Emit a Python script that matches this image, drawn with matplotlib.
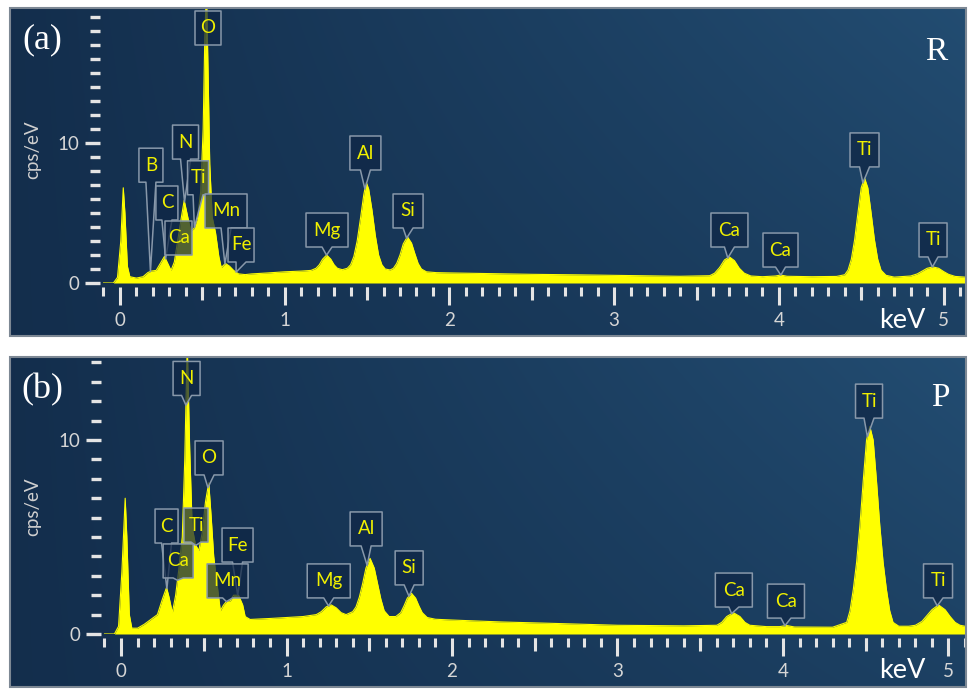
import numpy as np
import matplotlib
matplotlib.use("Agg")
import matplotlib.pyplot as plt
from matplotlib.patches import Polygon, Rectangle
from matplotlib.ticker import MultipleLocator, FixedLocator, NullFormatter
from matplotlib.transforms import IdentityTransform

plt.rcParams['font.family'] = ['Lato', 'DejaVu Sans']

# ---- EDS spectrum, sample R: (keV, cps/eV) ----
spectrum_a = [
    (-0.11, 0.0), (-0.04, 0.0), (-0.015, 0.4), (0.005, 3.0), (0.02, 6.8), (0.03, 5.0),
    (0.045, 1.2), (0.06, 0.45), (0.10, 0.35), (0.14, 0.45), (0.17, 0.75), (0.19, 0.85),
    (0.22, 0.9), (0.25, 1.5), (0.27, 1.9), (0.29, 1.4), (0.31, 0.9), (0.33, 1.5),
    (0.35, 3.0), (0.37, 4.5), (0.39, 5.9), (0.41, 4.8), (0.43, 3.7), (0.45, 3.9),
    (0.47, 4.6), (0.49, 6.5), (0.505, 11.0), (0.515, 17.5), (0.525, 21.0), (0.535, 15.0),
    (0.545, 8.5), (0.56, 4.7), (0.58, 3.6), (0.60, 1.9), (0.615, 1.1), (0.64, 1.4),
    (0.665, 1.2), (0.69, 0.9), (0.72, 0.65), (0.76, 0.6), (0.8, 0.65), (0.9, 0.72),
    (1.0, 0.8), (1.1, 0.85), (1.16, 0.9), (1.19, 1.05), (1.21, 1.3), (1.23, 1.7),
    (1.255, 2.0), (1.28, 1.7), (1.30, 1.3), (1.32, 1.05), (1.35, 0.95), (1.38, 1.05),
    (1.40, 1.3), (1.42, 1.9), (1.44, 3.0), (1.46, 4.6), (1.48, 6.3), (1.495, 7.2),
    (1.51, 6.7), (1.53, 5.2), (1.55, 3.4), (1.57, 2.0), (1.59, 1.3), (1.61, 1.0),
    (1.64, 0.93), (1.66, 1.05), (1.68, 1.4), (1.70, 2.0), (1.72, 2.8), (1.745, 3.3),
    (1.77, 2.85), (1.79, 2.1), (1.81, 1.4), (1.83, 1.0), (1.86, 0.8), (1.92, 0.74),
    (2.0, 0.72), (2.2, 0.68), (2.5, 0.62), (2.8, 0.58), (3.1, 0.53), (3.4, 0.48),
    (3.58, 0.52), (3.61, 0.7), (3.64, 1.1), (3.67, 1.65), (3.70, 1.86), (3.73, 1.6),
    (3.76, 1.05), (3.79, 0.7), (3.83, 0.5), (3.9, 0.45), (3.98, 0.5), (4.01, 0.57),
    (4.05, 0.48), (4.2, 0.45), (4.35, 0.47), (4.40, 0.59), (4.42, 0.92), (4.44, 1.7),
    (4.46, 3.1), (4.48, 5.0), (4.50, 6.8), (4.52, 7.5), (4.54, 6.8), (4.56, 5.0),
    (4.58, 3.1), (4.60, 1.7), (4.62, 0.92), (4.65, 0.55), (4.7, 0.42), (4.80, 0.5),
    (4.84, 0.65), (4.87, 0.85), (4.90, 1.05), (4.935, 1.15), (4.97, 1.05), (5.00, 0.82),
    (5.03, 0.62), (5.07, 0.47), (5.13, 0.42),
]

# ---- EDS spectrum, sample P ----
spectrum_b = [
    (-0.11, 0.0), (-0.04, 0.0), (-0.015, 0.4), (0.005, 3.2), (0.025, 7.0), (0.035, 5.0),
    (0.05, 1.0), (0.065, 0.3), (0.10, 0.3), (0.14, 0.5), (0.18, 0.75), (0.22, 1.0),
    (0.25, 1.8), (0.275, 2.4), (0.29, 1.9), (0.31, 1.1), (0.33, 2.0), (0.35, 3.4),
    (0.37, 5.0), (0.385, 9.0), (0.40, 15.0), (0.415, 9.5), (0.43, 5.5), (0.45, 4.6),
    (0.47, 4.3), (0.49, 5.2), (0.51, 6.8), (0.53, 7.8), (0.545, 6.0), (0.56, 4.0),
    (0.58, 2.6), (0.60, 1.2), (0.62, 1.5), (0.64, 1.7), (0.66, 1.7), (0.68, 2.0),
    (0.71, 2.0), (0.735, 1.5), (0.75, 0.9), (0.78, 0.75), (0.9, 0.8), (1.0, 0.85),
    (1.1, 0.9), (1.18, 1.0), (1.21, 1.15), (1.24, 1.4), (1.27, 1.5), (1.30, 1.35),
    (1.33, 1.1), (1.36, 1.0), (1.40, 1.15), (1.42, 1.4), (1.44, 1.9), (1.46, 2.6),
    (1.48, 3.4), (1.505, 3.9), (1.53, 3.4), (1.55, 2.6), (1.57, 1.8), (1.59, 1.2),
    (1.62, 0.9), (1.66, 0.9), (1.69, 1.1), (1.71, 1.45), (1.73, 1.85), (1.755, 2.1),
    (1.78, 1.85), (1.80, 1.45), (1.82, 1.1), (1.85, 0.85), (1.9, 0.76), (2.0, 0.72),
    (2.3, 0.62), (2.6, 0.55), (3.0, 0.45), (3.4, 0.42), (3.60, 0.45), (3.63, 0.6),
    (3.66, 0.9), (3.70, 1.1), (3.74, 0.9), (3.77, 0.6), (3.80, 0.45), (3.9, 0.38),
    (3.98, 0.38), (4.02, 0.44), (4.07, 0.36), (4.3, 0.35), (4.385, 0.6), (4.405, 1.2),
    (4.425, 2.3), (4.445, 3.7), (4.465, 5.6), (4.485, 7.9), (4.505, 10.0), (4.525, 10.7),
    (4.545, 10.0), (4.565, 7.9), (4.585, 5.6), (4.605, 3.7), (4.625, 2.3), (4.645, 1.2),
    (4.665, 0.6), (4.7, 0.4), (4.76, 0.4), (4.80, 0.45), (4.84, 0.65), (4.87, 0.95),
    (4.90, 1.25), (4.94, 1.5), (4.98, 1.25), (5.01, 0.9), (5.04, 0.6), (5.07, 0.45),
    (5.10, 0.4),
]

# identified lines: element, line energy (keV)
elements_a = ['B', 'C', 'Ca', 'N', 'Ti', 'O', 'Mn', 'Fe', 'Mg', 'Al', 'Si', 'Ca', 'Ca', 'Ti', 'Ti']
lines_a = [0.185, 0.277, 0.341, 0.392, 0.452, 0.525, 0.637, 0.705, 1.254, 1.487, 1.740,
           3.690, 4.012, 4.510, 4.932]
elements_b = ['N', 'O', 'C', 'Ti', 'Ca', 'Fe', 'Mn', 'Mg', 'Al', 'Si', 'Ca', 'Ca', 'Ti', 'Ti']
lines_b = [0.392, 0.525, 0.277, 0.452, 0.341, 0.705, 0.637, 1.254, 1.487, 1.740,
           3.690, 4.012, 4.510, 4.932]

# tag placement: (centre keV, bottom cps, width px)
tags_a = [(0.188, 7.2, 24), (0.285, 4.5, 22), (0.358, 2.0, 27), (0.398, 8.85, 26),
          (0.474, 6.3, 21), (0.534, 17.0, 26), (0.644, 3.93, 42), (0.735, 1.5, 26),
          (1.257, 2.57, 42), (1.49, 8.07, 31), (1.749, 3.93, 30), (3.70, 2.57, 37),
          (4.01, 1.14, 35), (4.52, 8.29, 29), (4.936, 1.86, 28)]
tags_b = [(0.396, 12.3, 27), (0.532, 8.2, 28), (0.275, 4.69, 23), (0.453, 4.74, 24),
          (0.345, 2.89, 30), (0.704, 3.71, 31), (0.644, 1.86, 41), (1.255, 1.86, 43),
          (1.481, 4.54, 32), (1.741, 2.53, 28), (3.703, 1.39, 37), (4.018, 0.82, 37),
          (4.52, 11.13, 27), (4.937, 1.86, 29)]

W, H = 970, 690
fig = plt.figure(figsize=(W / 100, H / 100), dpi=100, facecolor='white')


def rect(x0, y0, x1, y1):
    return [x0 / W, 1 - y1 / H, (x1 - x0) / W, (y1 - y0) / H]


def backdrop(frame):
    bg = fig.add_axes(rect(*frame))
    gx, gy = np.meshgrid(np.linspace(0, 1, 300), np.linspace(1, 0, 120))
    t = 0.6 * gx + 0.4 * gx * gy
    c0 = np.array([0.075, 0.180, 0.300])
    c1 = np.array([0.135, 0.300, 0.445])
    img = c0 + (c1 - c0) * t[..., None]
    bg.imshow(img, extent=[0, 1, 0, 1], aspect='auto', interpolation='bilinear')
    bg.set_axis_off()
    fig.add_artist(Rectangle((frame[0] / W, 1 - frame[3] / H),
                             (frame[2] - frame[0]) / W, (frame[3] - frame[1]) / H,
                             transform=fig.transFigure, fill=False,
                             edgecolor='#7d8894', lw=1.5))


def tag(ax, name, line, cx, by, w, energy, counts, ymax, h=34):
    to_px = ax.transData.transform
    x_c, y_b = to_px((cx, by))
    peak = min(np.interp(line, energy, counts), ymax)
    tx, ty = to_px((line, peak))
    x0, x1, y_t = x_c - w / 2, x_c + w / 2, y_b + h
    pts = [(x0, y_b)]
    if ty < y_b - 2:
        pts += [(x_c - 5, y_b), (tx, ty), (x_c + 5, y_b)]
    pts += [(x1, y_b), (x1, y_t), (x0, y_t)]
    ax.add_patch(Polygon(pts, closed=True, transform=IdentityTransform(),
                         facecolor=(0.06, 0.15, 0.27, 0.72), edgecolor='#8898aa',
                         lw=1.1, joinstyle='round', zorder=4))
    ax.text(x_c, y_b + h / 2, name, transform=IdentityTransform(), ha='center',
            va='center', color='#f0f000', fontsize=13.5, zorder=5)


def panel(frame, area, ymax, spectrum, elements, lines, tags, letter, sample,
          letter_y, sample_xy, ylab_y, x_hi):
    backdrop(frame)
    energy = np.array([p[0] for p in spectrum])
    counts = np.array([p[1] for p in spectrum])

    ax = fig.add_axes(rect(*area))
    ax.set_facecolor('none')
    ax.set_xlim(-0.103, x_hi)
    ax.set_ylim(0, ymax)

    ax.fill_between(energy, 0, counts, color='#ffff00', lw=0, zorder=2)
    ax.plot(energy, counts, color='#ffff00', lw=0.8, zorder=2)

    for s in ['top', 'right', 'bottom', 'left']:
        ax.spines[s].set_visible(False)
    ax.spines['bottom'].set_position(('outward', 3))
    ax.spines['left'].set_position(('outward', 2))

    tick_c = '#e4e4e4'
    ax.xaxis.set_major_locator(FixedLocator([0, 1, 2, 3, 4, 5]))
    ax.xaxis.set_minor_locator(MultipleLocator(0.1))
    ax.tick_params(axis='x', which='major', length=13, width=2.2, color=tick_c,
                   labelcolor='#d6d6d6', labelsize=13.5, pad=5)
    ax.tick_params(axis='x', which='minor', length=6.5, width=2.2, color=tick_c)
    ax.yaxis.set_major_locator(FixedLocator([0, 10]))
    ax.yaxis.set_minor_locator(MultipleLocator(1))
    ax.tick_params(axis='y', which='major', length=11, width=2.4, color=tick_c,
                   labelcolor='#d6d6d6', labelsize=13.5, pad=4)
    ax.tick_params(axis='y', which='minor', length=7.5, width=2.4, color=tick_c)

    # half-keV marks
    h_px = (area[3] - area[1])
    sec = ax.secondary_xaxis(location=-4.0 / h_px)
    sec.xaxis.set_major_locator(FixedLocator([0.5, 1.5, 2.5, 3.5, 4.5]))
    sec.xaxis.set_major_formatter(NullFormatter())
    sec.tick_params(axis='x', which='major', length=9, width=2.2, color=tick_c)
    sec.xaxis.set_minor_locator(FixedLocator([]))
    for s in sec.spines.values():
        s.set_visible(False)

    for name, line, (cx, by, w) in zip(elements, lines, tags):
        tag(ax, name, line, cx, by, w, energy, counts, ymax)

    fig.text(33 / W, 1 - ylab_y / H, 'cps/eV', rotation=90, ha='center', va='center',
             color='#cfcfcf', fontsize=13.5)
    fig.text(902 / W, 1 - (area[3] + 37) / H, 'keV', ha='center', va='center',
             color='white', fontsize=19.5)
    fig.text(42 / W, 1 - letter_y / H, letter, ha='center', va='center',
             color='white', fontsize=26, family=['Liberation Serif', 'DejaVu Serif'])
    fig.text(sample_xy[0] / W, 1 - sample_xy[1] / H, sample, ha='center', va='center',
             color='white', fontsize=24, family=['Liberation Serif', 'DejaVu Serif'])
    return ax


panel((10, 8, 966, 336), (103, 8, 965, 283), 19.64, spectrum_a,
      elements_a, lines_a, tags_a, '(a)', 'R', 40, (936, 52), 150, 5.13)
panel((10, 357, 966, 687), (104, 358, 965, 634), 14.23, spectrum_b,
      elements_b, lines_b, tags_b, '(b)', 'P', 390, (940, 398), 507, 5.10)

fig.savefig('out.png', dpi=100, facecolor='white')
